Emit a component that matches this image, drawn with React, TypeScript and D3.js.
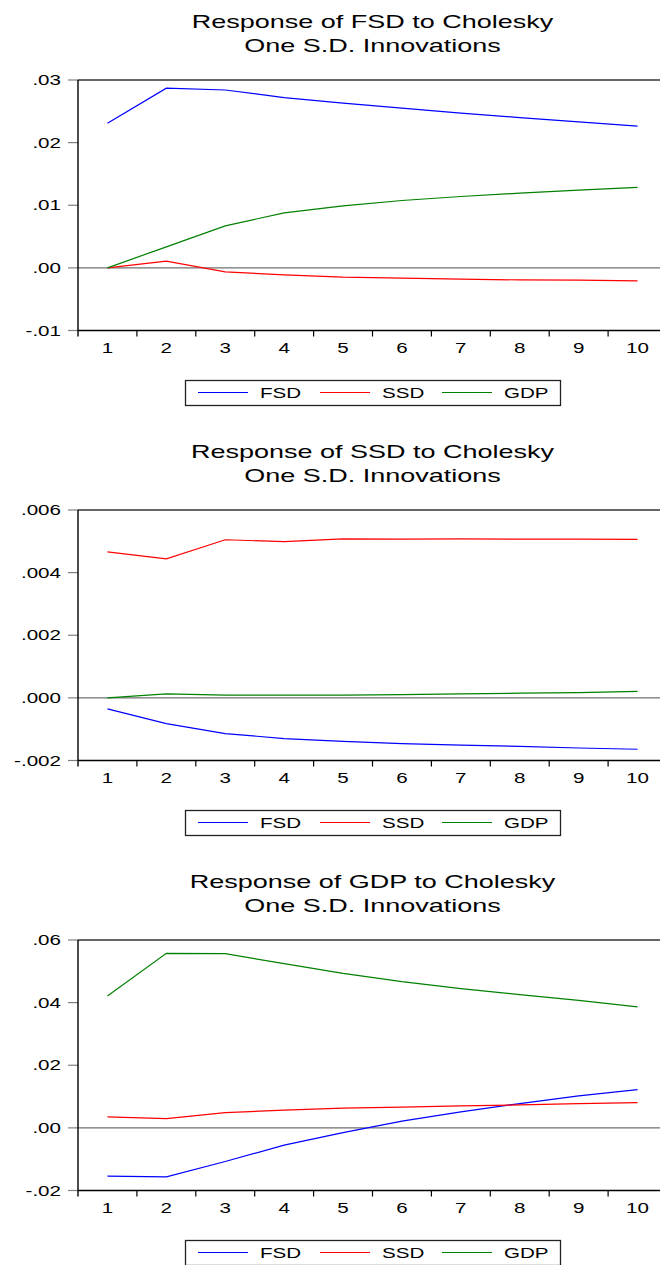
import React, { useRef, useEffect } from 'react';
import * as d3 from 'd3';

const periods = [1, 2, 3, 4, 5, 6, 7, 8, 9, 10];
const seriesNames = ['FSD', 'SSD', 'GDP'];
const seriesColors = ['#0000ff', '#ff0000', '#008000'];

// Response of FSD
const fsdFromFsd = [0.0231, 0.0287, 0.0284, 0.0272, 0.0263, 0.0255, 0.0247, 0.0240, 0.0233, 0.02264];
const fsdFromSsd = [0.0, 0.00107, -0.00064, -0.00112, -0.00149, -0.00165, -0.00181, -0.00192, -0.00197, -0.00208];
const fsdFromGdp = [0.0, 0.00336, 0.00671, 0.00879, 0.0099, 0.01076, 0.0114, 0.01193, 0.01241, 0.01284];

// Response of SSD
const ssdFromFsd = [-0.00035, -0.00082, -0.00114, -0.0013, -0.00139, -0.00146, -0.00151, -0.00155, -0.0016, -0.00164];
const ssdFromSsd = [0.00466, 0.00444, 0.00505, 0.00499, 0.00508, 0.00507, 0.00508, 0.00507, 0.00507, 0.00506];
const ssdFromGdp = [0.0, 0.00013, 0.000085, 0.000085, 0.000085, 0.000106, 0.00013, 0.00015, 0.00017, 0.00021];

// Response of GDP
const gdpFromFsd = [-0.01543, -0.01564, -0.01074, -0.00553, -0.00149, 0.00213, 0.00511, 0.00777, 0.01021, 0.01223];
const gdpFromSsd = [0.00351, 0.00298, 0.00489, 0.00564, 0.00628, 0.0066, 0.00702, 0.00734, 0.00777, 0.00809];
const gdpFromGdp = [0.04213, 0.05574, 0.05564, 0.05245, 0.04936, 0.0467, 0.04447, 0.04255, 0.04074, 0.03862];

const fsdTicks = [-0.01, 0, 0.01, 0.02, 0.03];
const ssdTicks = [-0.002, 0, 0.002, 0.004, 0.006];
const gdpTicks = [-0.02, 0, 0.02, 0.04, 0.06];

const panels = [
  { name: 'FSD', ticks: fsdTicks, digits: 2, series: [fsdFromFsd, fsdFromSsd, fsdFromGdp] },
  { name: 'SSD', ticks: ssdTicks, digits: 3, series: [ssdFromFsd, ssdFromSsd, ssdFromGdp] },
  { name: 'GDP', ticks: gdpTicks, digits: 2, series: [gdpFromFsd, gdpFromSsd, gdpFromGdp] },
];

const W = 660;
const H = 1265;
const FONT = '"Liberation Sans", Arial, sans-serif';
const SX = 1.42; // the picture's text is stretched sideways

const fmt = (v: number, digits: number) => {
  const s = v.toFixed(digits);
  return s.replace(/^(-?)0\./, '$1.');
};

export default function App() {
  const ref = useRef<SVGSVGElement | null>(null);

  useEffect(() => {
    if (!ref.current) return;
    const svg = d3.select(ref.current);
    svg.selectAll('*').remove();

    const panelH = 430;
    const margin = { top: 80, left: 78, bottom: 330.5 };
    const plotRight = 667;

    const x = d3.scaleLinear().domain([0.5, 10.5]).range([margin.left, plotRight]);

    panels.forEach((p, pi) => {
      const g = svg.append('g').attr('transform', `translate(0,${pi * panelH})`);
      const y = d3.scaleLinear()
        .domain([p.ticks[0], p.ticks[p.ticks.length - 1]])
        .range([margin.bottom, margin.top]);

      // title
      const titleLines = [`Response of ${p.name} to Cholesky`, 'One S.D. Innovations'];
      const cx = (margin.left + plotRight) / 2;
      titleLines.forEach((t, i) => {
        g.append('text')
          .attr('transform', `translate(${cx},${28 + i * 23.5}) scale(1.5,1)`)
          .attr('text-anchor', 'middle')
          .attr('font-family', FONT)
          .attr('font-size', 18)
          .attr('fill', '#000')
          .text(t);
      });

      // y ticks and labels
      p.ticks.forEach(v => {
        g.append('line')
          .attr('x1', margin.left - 10).attr('x2', margin.left)
          .attr('y1', y(v)).attr('y2', y(v))
          .attr('stroke', '#808080').attr('stroke-width', 1.2);
        g.append('text')
          .attr('transform', `translate(${margin.left - 17},${y(v) + 5}) scale(${SX},1)`)
          .attr('text-anchor', 'end')
          .attr('font-family', FONT)
          .attr('font-size', 14.5)
          .attr('fill', '#000')
          .text(fmt(v, p.digits));
      });

      // zero line
      g.append('line')
        .attr('x1', margin.left).attr('x2', plotRight)
        .attr('y1', y(0)).attr('y2', y(0))
        .attr('stroke', '#707070').attr('stroke-width', 1.2);

      // frame: top, left, bottom
      g.append('line')
        .attr('x1', margin.left).attr('x2', plotRight)
        .attr('y1', margin.top).attr('y2', margin.top)
        .attr('stroke', '#333').attr('stroke-width', 1.6);
      g.append('line')
        .attr('x1', margin.left).attr('x2', margin.left)
        .attr('y1', margin.top).attr('y2', margin.bottom + 6)
        .attr('stroke', '#000').attr('stroke-width', 1.4);
      g.append('line')
        .attr('x1', margin.left).attr('x2', plotRight)
        .attr('y1', margin.bottom).attr('y2', margin.bottom)
        .attr('stroke', '#000').attr('stroke-width', 1.4);

      // x ticks and labels
      periods.forEach(d => {
        g.append('line')
          .attr('x1', x(d + 0.5)).attr('x2', x(d + 0.5))
          .attr('y1', margin.bottom).attr('y2', margin.bottom + 6)
          .attr('stroke', '#000').attr('stroke-width', 1.2);
        g.append('text')
          .attr('transform', `translate(${x(d)},${margin.bottom + 22}) scale(${SX},1)`)
          .attr('text-anchor', 'middle')
          .attr('font-family', FONT)
          .attr('font-size', 14.5)
          .attr('fill', '#000')
          .text(String(d));
      });

      // series lines
      const line = d3.line<number>()
        .x((_, i) => x(periods[i]))
        .y(v => y(v));
      p.series.forEach((vals, si) => {
        g.append('path')
          .attr('d', line(vals) || '')
          .attr('fill', 'none')
          .attr('stroke', seriesColors[si])
          .attr('stroke-width', 1.2);
      });

      // legend
      const lg = g.append('g');
      lg.append('rect')
        .attr('x', 185.5).attr('y', 380.5)
        .attr('width', 375).attr('height', 25)
        .attr('fill', '#fff').attr('stroke', '#222').attr('stroke-width', 1.3);
      seriesNames.forEach((n, si) => {
        const lx = 198 + si * 122;
        lg.append('line')
          .attr('x1', lx).attr('x2', lx + 50)
          .attr('y1', 392.5).attr('y2', 392.5)
          .attr('stroke', seriesColors[si]).attr('stroke-width', 1.2);
        lg.append('text')
          .attr('transform', `translate(${lx + 62},398) scale(${SX},1)`)
          .attr('font-family', FONT)
          .attr('font-size', 14.5)
          .attr('fill', '#000')
          .text(n);
      });
    });
  }, []);

  return (
    <svg
      ref={ref}
      width={W}
      height={H}
      style={{ position: 'absolute', left: 0, top: 0, display: 'block', background: '#fff' }}
    />
  );
}
